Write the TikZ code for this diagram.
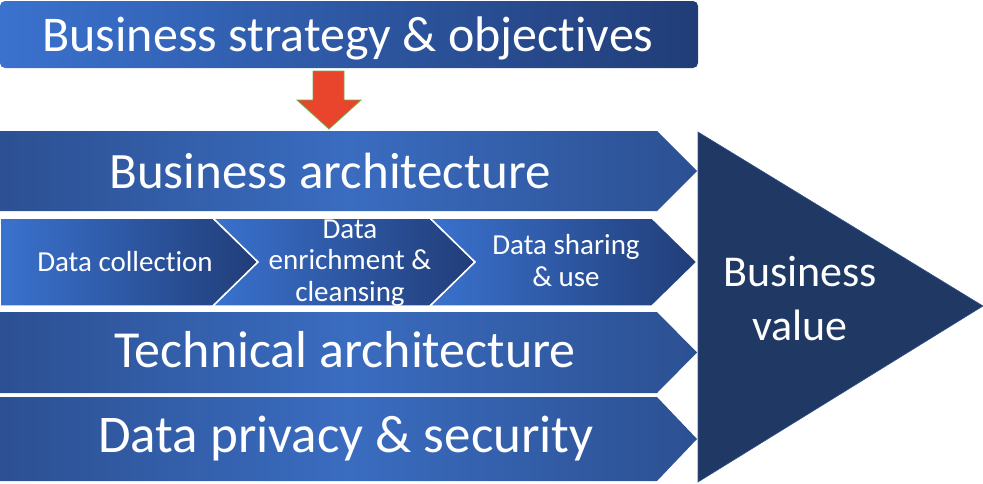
\documentclass[tikz,border=0pt]{standalone}
\usepackage{fontspec}
\setmainfont[Ligatures=NoCommon]{Carlito}
\usepackage{tikz}
\usetikzlibrary{positioning}
\definecolor{bandlight}{RGB}{58,108,192}
\definecolor{banddark}{RGB}{44,80,146}
\definecolor{steplight}{RGB}{58,114,206}
\definecolor{stepdark}{RGB}{33,61,120}
\definecolor{valueblue}{RGB}{32,56,100}
\definecolor{valueedge}{RGB}{52,84,140}
\definecolor{arrowred}{RGB}{232,69,44}
\definecolor{arrowgreen}{RGB}{112,173,71}
\tikzset{
    bigtext/.style={text=white, inner sep=0pt, anchor=base, font=\fontsize{51}{60}\selectfont},
    smalltext/.style={text=white, inner sep=0pt, anchor=base, align=center, font=\fontsize{29}{31.5}\selectfont},
    valuetext/.style={text=white, inner sep=0pt, anchor=base, align=center, font=\fontsize{44}{54}\selectfont},
    band/.style={left color=banddark, right color=banddark, middle color=bandlight},
    stepshade/.style={left color=steplight, right color=stepdark, draw=white, line width=1.5pt},
    redarrow/.style={fill=arrowred, draw=arrowgreen, line width=0.8pt}
}

\begin{document}
\begin{tikzpicture}[x=1pt, y=-1pt]
    \useasboundingbox (0,0) rectangle (983,483);

    % Strategy box
    \shade[stepshade, draw=none, rounded corners=5pt] (0,1) rectangle (698,68);
    \node[bigtext, font=\fontsize{50}{60}\selectfont] (strategy) at (348,51) {Business strategy \& objectives};

    % Red arrow down
    \draw[redarrow] (313,71) -- (344,71) -- (344,100) -- (361,100) -- (329,129)
        -- (297,100) -- (313,100) -- cycle;

    % Bands
    \shade[band] (0,131) -- (657,131) -- (697,171) -- (657,211) -- (0,211) -- cycle;
    \node[bigtext] (busarch) at (330,188) {Business architecture};

    \shade[band] (0,312) -- (657,312) -- (697,352.5) -- (657,393) -- (0,393) -- cycle;
    \node[bigtext, font=\fontsize{52}{60}\selectfont] (techarch) at (345,367) {Technical architecture};

    \shade[band] (0,397) -- (657,397) -- (697,439) -- (657,481) -- (0,481) -- cycle;
    \node[bigtext, font=\fontsize{53}{60}\selectfont] (privacy) at (346,452) {Data privacy \& security};

    % Data steps
    \shade[stepshade] (0,218) -- (213,218) -- (258,262) -- (213,306) -- (0,306) -- cycle;
    \shade[stepshade] (213,218) -- (430,218) -- (475,262) -- (430,306) -- (213,306) -- (258,262) -- cycle;
    \shade[stepshade] (430,218) -- (652,218) -- (697,262) -- (652,306) -- (430,306) -- (475,262) -- cycle;
    \node[smalltext] (collect) at (125,271) {Data collection};
    \node[smalltext] (enrich) at (350,301) {Data\\enrichment \&\\cleansing};
    \node[smalltext] (share) at (566,286) {Data sharing\\\& use};

    % Business value
    \filldraw[fill=valueblue, draw=valueedge, line width=0.6pt] (698,132) -- (983,306) -- (698,482) -- cycle;
    \node[valuetext] (value) at (800,340) {Business\\value};
\end{tikzpicture}
\end{document}
